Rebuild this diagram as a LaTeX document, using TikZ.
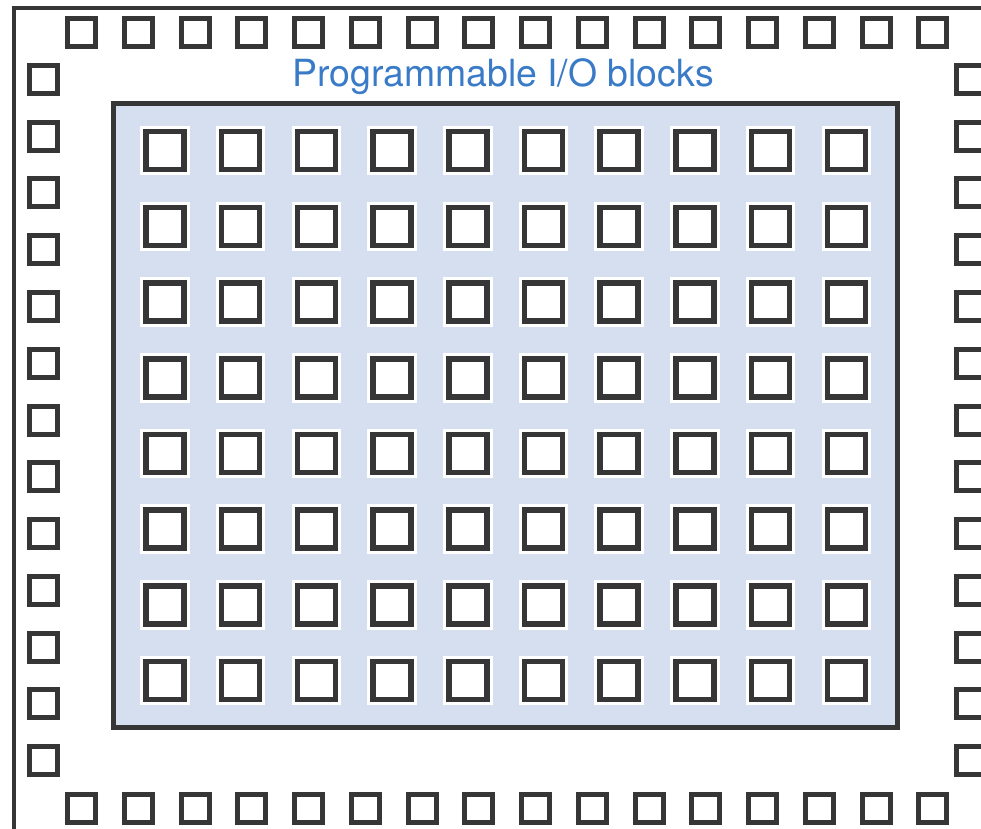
\documentclass[tikz,border=0pt]{standalone}
\usepackage{fontspec}
\newfontfamily\labelfont{TeX Gyre Heros}
\definecolor{strokegray}{HTML}{363636}
\definecolor{fabricblue}{HTML}{D6DFEF}
\definecolor{labelblue}{HTML}{3A7BC8}
\tikzset{
  iopad/.style={rectangle, draw=strokegray, fill=white, line width=5pt, minimum size=28pt, inner sep=0pt, outer sep=0pt},
  logicblk/.style={rectangle, draw=strokegray, fill=white, line width=5.5pt, minimum size=38pt, inner sep=0pt, outer sep=0pt,
    preaction={draw=white, line width=11.5pt}},
  frameline/.style={draw=strokegray, line width=4.6pt},
  fabric/.style={draw=strokegray, fill=fabricblue, line width=5pt},
  blocklabel/.style={text=labelblue, font=\labelfont\fontsize{37.4}{40}\selectfont, inner sep=0pt, anchor=base}
}
\begin{document}
\begin{tikzpicture}[x=1pt,y=1pt]
\useasboundingbox (0,0) rectangle (981,828);
\clip (0,0) rectangle (981,828);
% outer chip frame (cropped at right and bottom)
\coordinate (fbl) at (13.8,-20);
\coordinate (ftl) at (13.8,820);
\coordinate (ftr) at (1010,820);
\draw[frameline] (fbl) -- (ftl) -- (ftr);
% I/O pads: top and bottom rows
\foreach \i in {0,...,15}{
  \node[iopad] (top-\i) at ({81.5+\i*56.75},{828-32.5}) {};
  \node[iopad] (bot-\i) at ({81.5+\i*56.75},{828-808}) {};
}
% I/O pads: left and right columns
\foreach \j in {0,...,12}{
  \node[iopad] (lft-\j) at (43.5,{828-(79.5+\j*56.75)}) {};
  \node[iopad] (rgt-\j) at (970.5,{828-(79.5+\j*56.75)}) {};
}
% logic fabric
\node[fabric, rectangle, inner sep=0pt, minimum width=784.5pt, minimum height=623pt] (fabric) at ({(113+897.5)/2},{828-(104+727)/2}) {};
% configurable logic blocks
\foreach \r in {0,...,7}{
  \foreach \c in {0,...,9}{
    \node[logicblk] (clb-\r-\c) at ({165+\c*75.7},{828-(150.7+\r*75.7)}) {};
  }
}
\node[blocklabel] (label) at (503,{828-87}) {Programmable I/O blocks};
\end{tikzpicture}
\end{document}
